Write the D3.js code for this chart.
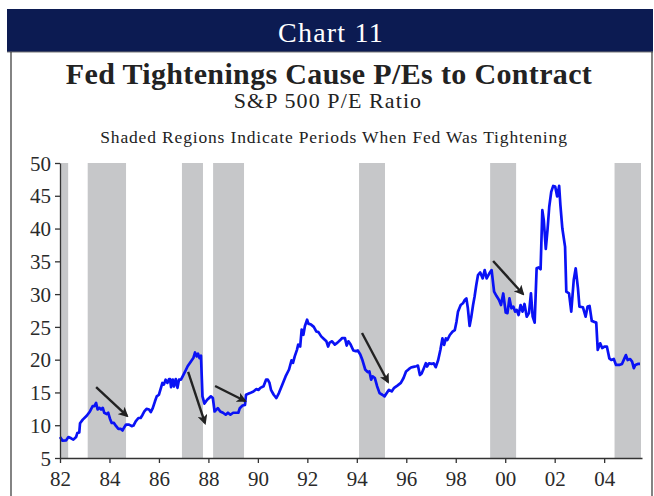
<!DOCTYPE html>
<html>
<head>
<meta charset="utf-8">
<script src="https://cdn.jsdelivr.net/npm/d3@7"></script>
<style>
  html, body { margin: 0; padding: 0; background: #fff; }
  svg { display: block; }
</style>
</head>
<body>
<svg id="chart" width="654" height="496"></svg>
<script>
const width = 654;
const height = 496;
const margin = {top: 163, right: 12, bottom: 38, left: 60};

// Fed tightening periods (decimal years)
const tightStart = [1982.0, 1983.12, 1986.93, 1988.19, 1994.09, 1999.39, 2004.42];
const tightEnd   = [1982.33, 1984.67, 1987.78, 1989.44, 1995.14, 2000.44, 2005.49];

// S&P 500 P/E ratio
const peYears = [
  1982.0, 1982.1, 1982.25, 1982.34, 1982.45, 1982.54, 1982.65, 1982.7, 1982.78, 1982.81,
  1982.92, 1983.08, 1983.21, 1983.32, 1983.39, 1983.46, 1983.52, 1983.59, 1983.66, 1983.73,
  1983.79, 1983.89, 1983.95, 1984.02, 1984.09, 1984.18, 1984.27, 1984.36, 1984.45, 1984.53,
  1984.6, 1984.67, 1984.79, 1984.9, 1984.97, 1985.06, 1985.17, 1985.26, 1985.34, 1985.41,
  1985.5, 1985.6, 1985.67, 1985.75, 1985.84, 1985.91, 1986.0, 1986.09, 1986.14, 1986.2,
  1986.27, 1986.34, 1986.41, 1986.45, 1986.49, 1986.56, 1986.61, 1986.68, 1986.75, 1986.81,
  1986.89, 1986.96, 1987.06, 1987.16, 1987.3, 1987.39, 1987.46, 1987.53, 1987.58, 1987.64,
  1987.7, 1987.76, 1987.84, 1987.95, 1988.1, 1988.18, 1988.25, 1988.38, 1988.48, 1988.59,
  1988.7, 1988.79, 1988.89, 1989.0, 1989.11, 1989.21, 1989.27, 1989.38, 1989.48, 1989.52,
  1989.68, 1989.82, 1989.93, 1990.03, 1990.1, 1990.23, 1990.33, 1990.4, 1990.47, 1990.53,
  1990.64, 1990.75, 1990.85, 1990.99, 1991.12, 1991.26, 1991.36, 1991.42, 1991.49, 1991.58,
  1991.63, 1991.71, 1991.77, 1991.84, 1991.9, 1991.99, 1992.04, 1992.15, 1992.26, 1992.36,
  1992.45, 1992.56, 1992.67, 1992.77, 1992.84, 1992.9, 1993.0, 1993.11, 1993.22, 1993.32,
  1993.41, 1993.52, 1993.59, 1993.66, 1993.75, 1993.86, 1993.96, 1994.04, 1994.14, 1994.23,
  1994.34, 1994.44, 1994.51, 1994.58, 1994.64, 1994.73, 1994.82, 1994.92, 1995.03, 1995.12,
  1995.21, 1995.3, 1995.41, 1995.51, 1995.64, 1995.78, 1995.89, 1995.99, 1996.1, 1996.19,
  1996.29, 1996.4, 1996.47, 1996.55, 1996.62, 1996.71, 1996.79, 1996.84, 1996.92, 1997.02,
  1997.11, 1997.19, 1997.29, 1997.38, 1997.46, 1997.53, 1997.6, 1997.66, 1997.76, 1997.87,
  1997.96, 1998.03, 1998.09, 1998.2, 1998.29, 1998.36, 1998.43, 1998.49, 1998.56, 1998.63,
  1998.7, 1998.76, 1998.83, 1998.9, 1998.99, 1999.09, 1999.17, 1999.25, 1999.36, 1999.45,
  1999.55, 1999.65, 1999.75, 1999.83, 1999.92, 2000.02, 2000.09, 2000.17, 2000.25, 2000.33,
  2000.4, 2000.46, 2000.54, 2000.62, 2000.7, 2000.78, 2000.87, 2000.96, 2001.04, 2001.11,
  2001.19, 2001.27, 2001.35, 2001.43, 2001.5, 2001.56, 2001.64, 2001.71, 2001.78, 2001.86,
  2001.94, 2002.02, 2002.1, 2002.18, 2002.23, 2002.31, 2002.42, 2002.47, 2002.58, 2002.67,
  2002.77, 2002.85, 2002.94, 2003.0, 2003.14, 2003.25, 2003.33, 2003.41, 2003.5, 2003.58,
  2003.68, 2003.74, 2003.84, 2003.92, 2004.01, 2004.11, 2004.21, 2004.29, 2004.39, 2004.48,
  2004.61, 2004.72, 2004.82, 2004.88, 2004.95, 2005.05, 2005.13, 2005.2, 2005.26, 2005.36,
  2005.45
];
const peValues = [
  8.2, 7.65, 7.7, 8.2, 8.0, 7.8, 8.2, 8.8, 8.9, 10.3,
  10.85, 11.45, 12.1, 12.9, 12.9, 13.4, 12.4, 12.65, 12.4, 12.65,
  11.9, 11.7, 11.9, 11.0, 10.35, 10.35, 9.85, 9.45, 9.45, 9.2,
  9.7, 10.1, 10.1, 9.85, 9.95, 10.6, 11.1, 11.1, 11.6, 12.1,
  12.5, 12.4, 12.0, 12.6, 13.65, 14.4, 14.65, 15.8, 16.45, 16.2,
  16.95, 16.45, 17.05, 17.05, 15.8, 16.95, 15.9, 17.05, 15.7, 16.95,
  16.95, 17.45, 18.2, 19.0, 19.75, 20.25, 21.1, 20.5, 20.9, 20.25,
  20.6, 14.4, 13.3, 13.9, 14.4, 14.15, 12.1, 12.6, 12.1, 11.9,
  11.6, 11.9, 11.6, 11.9, 11.9, 11.9, 12.6, 13.0, 13.1, 14.65,
  14.9, 15.15, 15.5, 15.4, 15.7, 15.95, 16.95, 16.95, 16.45, 15.4,
  14.65, 14.15, 14.9, 16.2, 17.45, 18.5, 19.9, 19.5, 20.5, 21.5,
  22.3, 22.0, 24.6, 23.8, 25.1, 26.1, 25.5, 25.35, 25.0, 24.3,
  24.2, 23.55, 23.15, 22.8, 22.0, 22.6, 22.8, 22.3, 22.6, 22.95,
  23.3, 23.3, 22.15, 22.8, 22.3, 21.4, 21.3, 21.4, 20.8, 19.9,
  18.5, 18.1, 18.2, 16.95, 17.45, 17.2, 15.95, 14.9, 14.65, 14.4,
  14.9, 15.4, 15.15, 15.7, 16.05, 16.45, 17.2, 18.2, 18.55, 18.8,
  18.9, 19.0, 19.1, 17.66, 17.9, 18.7, 19.45, 18.95, 19.45, 19.35,
  19.45, 18.85, 19.95, 21.5, 23.25, 22.24, 23.25, 23.0, 23.76, 24.27,
  24.5, 25.8, 27.3, 28.34, 28.6, 29.1, 29.35, 27.84, 25.14, 26.56,
  28.34, 29.6, 31.4, 32.9, 33.3, 32.4, 33.67, 32.4, 33.17, 33.67,
  30.37, 29.7, 29.1, 28.34, 30.1, 27.2, 27.1, 29.36, 27.84, 28.1,
  27.33, 27.6, 26.8, 28.34, 27.33, 28.5, 26.56, 27.1, 30.1, 26.56,
  25.65, 33.93, 34.07, 33.8, 42.8, 41.25, 36.9, 39.8, 43.33, 45.6,
  46.5, 46.4, 44.9, 46.5, 43.6, 40.0, 37.2, 30.37, 30.1, 27.33,
  32.15, 33.93, 30.9, 28.1, 28.0, 26.56, 28.1, 28.2, 25.9, 25.8,
  25.65, 21.5, 22.5, 21.77, 22.0, 22.0, 20.2, 19.95, 20.1, 19.2,
  19.2, 19.35, 20.2, 20.7, 19.95, 20.1, 19.7, 18.7, 19.2, 19.35,
  19.35
];

// annotation arrows: start/end in data units
const arrowX1 = [1983.46, 1987.18, 1988.27, 1994.21, 1999.51];
const arrowY1 = [15.83, 18.12, 15.99, 24.07, 35.05];
const arrowX2 = [1984.71, 1987.86, 1989.48, 1995.26, 2000.72];
const arrowY2 = [11.41, 10.34, 13.70, 16.60, 30.02];

const yTicks = [5, 10, 15, 20, 25, 30, 35, 40, 45, 50];
const xTicks = [1982, 1984, 1986, 1988, 1990, 1992, 1994, 1996, 1998, 2000, 2002, 2004];

const serif = "'Liberation Serif', 'Times New Roman', serif";

const x = d3.scaleLinear([1982, 2005.53], [margin.left, width - margin.right]);
const y = d3.scaleLinear([5, 50], [height - margin.bottom, margin.top]);

const svg = d3.select('#chart');

// header bar + frame
svg.append('rect')
  .attr('x', 7).attr('y', 9)
  .attr('width', 646).attr('height', 43)
  .attr('fill', '#0c1b52');
svg.append('line')
  .attr('x1', 7).attr('x2', 653).attr('y1', 52).attr('y2', 52)
  .attr('stroke', '#777').attr('stroke-width', 1);
svg.append('path')
  .attr('d', 'M11,52V496M652,52V496')
  .attr('stroke', '#333').attr('stroke-width', 1.2).attr('fill', 'none');

function header(txt, cx, cy, size, spacing, weight, color) {
  svg.append('text')
    .attr('x', cx).attr('y', cy)
    .attr('text-anchor', 'middle')
    .attr('font-family', serif)
    .attr('font-size', size + 'px')
    .attr('font-weight', weight)
    .attr('letter-spacing', spacing + 'px')
    .attr('fill', color)
    .text(txt);
}
header('Chart 11', 331, 42, 28, 1.2, 'normal', '#fff');
header('Fed Tightenings Cause P/Es to Contract', 329, 84, 30, 0.35, 'bold', '#222');
header('S&P 500 P/E Ratio', 328, 108, 22, 1.1, 'normal', '#222');
header('Shaded Regions Indicate Periods When Fed Was Tightening', 334, 143, 17.5, 0.84, 'normal', '#222');

// shaded periods
svg.append('g').attr('id', 'shading')
  .selectAll('rect')
  .data(tightStart)
  .join('rect')
    .attr('x', d => x(d))
    .attr('width', (d, i) => x(tightEnd[i]) - x(d))
    .attr('y', y(50))
    .attr('height', y(5) - y(50))
    .attr('fill', '#c6c7c9');

// line
svg.append('path')
  .datum(peValues)
  .attr('fill', 'none')
  .attr('stroke', '#0a12f5')
  .attr('stroke-width', 2.7)
  .attr('stroke-linejoin', 'round')
  .attr('d', d3.line()
    .x((d, i) => x(peYears[i]))
    .y(d => y(d)));

// arrows
svg.append('defs').append('marker')
  .attr('id', 'head')
  .attr('viewBox', '0 0 10 10')
  .attr('refX', 8).attr('refY', 5)
  .attr('markerWidth', 4.2).attr('markerHeight', 4.2)
  .attr('orient', 'auto')
  .append('path')
    .attr('d', 'M0,0L10,5L0,10L2.5,5Z')
    .attr('fill', '#222');

svg.append('g').attr('id', 'arrows')
  .selectAll('line')
  .data(arrowX1)
  .join('line')
    .attr('x1', d => x(d))
    .attr('y1', (d, i) => y(arrowY1[i]))
    .attr('x2', (d, i) => x(arrowX2[i]))
    .attr('y2', (d, i) => y(arrowY2[i]))
    .attr('stroke', '#222')
    .attr('stroke-width', 2.4)
    .attr('marker-end', 'url(#head)');

// axes
const yAxis = svg.append('g')
  .attr('transform', `translate(${margin.left},0)`)
  .call(d3.axisLeft(y).tickValues(yTicks).tickSize(5).tickSizeOuter(0).tickPadding(4));

const xAxis = svg.append('g')
  .attr('transform', `translate(0,${height - margin.bottom})`)
  .call(d3.axisBottom(x).tickValues(xTicks).tickSize(5).tickSizeOuter(0).tickPadding(8)
    .tickFormat(d => String(d).slice(2)));

[yAxis, xAxis].forEach(ax => {
  ax.select('.domain').attr('stroke', '#333').attr('stroke-width', 1.3);
  ax.selectAll('.tick line').attr('stroke', '#333').attr('stroke-width', 1.3);
  ax.selectAll('.tick text')
    .attr('font-family', serif)
    .attr('font-size', '21px')
    .attr('fill', '#2a2a2a');
});
yAxis.selectAll('.tick text').attr('dy', '0.34em');
</script>
</body>
</html>
